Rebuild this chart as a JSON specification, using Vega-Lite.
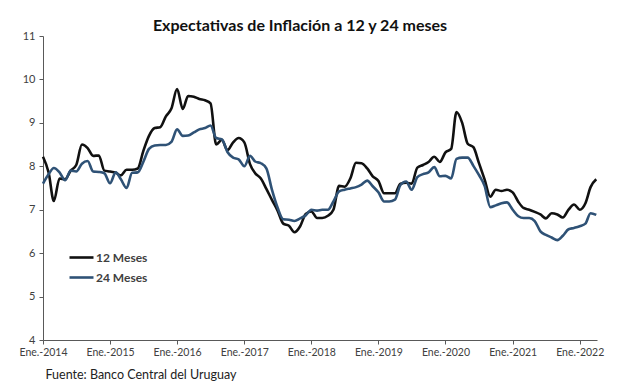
{
  "$schema": "https://vega.github.io/schema/vega-lite/v6.json",
  "autosize": {"type": "none"},
  "width": 554,
  "height": 304,
  "padding": {"left": 43, "top": 36, "right": 20, "bottom": 51},
  "background": "white",
  "title": {
    "text": "Expectativas de Inflación a 12 y 24 meses",
    "font": "Lato",
    "fontSize": 16,
    "fontWeight": "bold",
    "color": "#111111",
    "anchor": "middle",
    "dx": -20,
    "offset": -4
  },
  "data": {
    "values": [
      {"date": "2014-01-01", "m12": 8.22, "m24": 7.6},
      {"date": "2014-02-01", "m12": 7.85, "m24": 7.82},
      {"date": "2014-03-01", "m12": 7.2, "m24": 7.96},
      {"date": "2014-04-01", "m12": 7.72, "m24": 7.86},
      {"date": "2014-05-01", "m12": 7.7, "m24": 7.68},
      {"date": "2014-06-01", "m12": 7.9, "m24": 7.9},
      {"date": "2014-07-01", "m12": 8.03, "m24": 7.88},
      {"date": "2014-08-01", "m12": 8.5, "m24": 8.06},
      {"date": "2014-09-01", "m12": 8.42, "m24": 8.12},
      {"date": "2014-10-01", "m12": 8.24, "m24": 7.88},
      {"date": "2014-11-01", "m12": 8.25, "m24": 7.87},
      {"date": "2014-12-01", "m12": 7.9, "m24": 7.84},
      {"date": "2015-01-01", "m12": 7.88, "m24": 7.61},
      {"date": "2015-02-01", "m12": 7.85, "m24": 7.86},
      {"date": "2015-03-01", "m12": 7.79, "m24": 7.7},
      {"date": "2015-04-01", "m12": 7.92, "m24": 7.5},
      {"date": "2015-05-01", "m12": 7.92, "m24": 7.85},
      {"date": "2015-06-01", "m12": 7.95, "m24": 7.86},
      {"date": "2015-07-01", "m12": 8.35, "m24": 8.1},
      {"date": "2015-08-01", "m12": 8.7, "m24": 8.4},
      {"date": "2015-09-01", "m12": 8.88, "m24": 8.48},
      {"date": "2015-10-01", "m12": 8.9, "m24": 8.49},
      {"date": "2015-11-01", "m12": 9.15, "m24": 8.49},
      {"date": "2015-12-01", "m12": 9.33, "m24": 8.56},
      {"date": "2016-01-01", "m12": 9.78, "m24": 8.85},
      {"date": "2016-02-01", "m12": 9.32, "m24": 8.7},
      {"date": "2016-03-01", "m12": 9.62, "m24": 8.71},
      {"date": "2016-04-01", "m12": 9.6, "m24": 8.78},
      {"date": "2016-05-01", "m12": 9.55, "m24": 8.85},
      {"date": "2016-06-01", "m12": 9.52, "m24": 8.88},
      {"date": "2016-07-01", "m12": 9.45, "m24": 8.94},
      {"date": "2016-08-01", "m12": 8.5, "m24": 8.65},
      {"date": "2016-09-01", "m12": 8.61, "m24": 8.62},
      {"date": "2016-10-01", "m12": 8.37, "m24": 8.33},
      {"date": "2016-11-01", "m12": 8.55, "m24": 8.2},
      {"date": "2016-12-01", "m12": 8.65, "m24": 8.16},
      {"date": "2017-01-01", "m12": 8.55, "m24": 8.0},
      {"date": "2017-02-01", "m12": 8.05, "m24": 8.24},
      {"date": "2017-03-01", "m12": 7.84, "m24": 8.11},
      {"date": "2017-04-01", "m12": 7.72, "m24": 8.07},
      {"date": "2017-05-01", "m12": 7.48, "m24": 7.95},
      {"date": "2017-06-01", "m12": 7.22, "m24": 7.45},
      {"date": "2017-07-01", "m12": 6.98, "m24": 7.05},
      {"date": "2017-08-01", "m12": 6.68, "m24": 6.78},
      {"date": "2017-09-01", "m12": 6.63, "m24": 6.77},
      {"date": "2017-10-01", "m12": 6.48, "m24": 6.74},
      {"date": "2017-11-01", "m12": 6.62, "m24": 6.8},
      {"date": "2017-12-01", "m12": 6.9, "m24": 6.87},
      {"date": "2018-01-01", "m12": 6.96, "m24": 7.0},
      {"date": "2018-02-01", "m12": 6.81, "m24": 6.98},
      {"date": "2018-03-01", "m12": 6.81, "m24": 7.0},
      {"date": "2018-04-01", "m12": 6.86, "m24": 7.0},
      {"date": "2018-05-01", "m12": 7.0, "m24": 7.19},
      {"date": "2018-06-01", "m12": 7.55, "m24": 7.42},
      {"date": "2018-07-01", "m12": 7.53, "m24": 7.46},
      {"date": "2018-08-01", "m12": 7.72, "m24": 7.49},
      {"date": "2018-09-01", "m12": 8.08, "m24": 7.52},
      {"date": "2018-10-01", "m12": 8.07, "m24": 7.58},
      {"date": "2018-11-01", "m12": 7.95, "m24": 7.67},
      {"date": "2018-12-01", "m12": 7.77, "m24": 7.54},
      {"date": "2019-01-01", "m12": 7.66, "m24": 7.4},
      {"date": "2019-02-01", "m12": 7.38, "m24": 7.19},
      {"date": "2019-03-01", "m12": 7.38, "m24": 7.19},
      {"date": "2019-04-01", "m12": 7.38, "m24": 7.23},
      {"date": "2019-05-01", "m12": 7.6, "m24": 7.57},
      {"date": "2019-06-01", "m12": 7.62, "m24": 7.65},
      {"date": "2019-07-01", "m12": 7.6, "m24": 7.46},
      {"date": "2019-08-01", "m12": 7.97, "m24": 7.75},
      {"date": "2019-09-01", "m12": 8.03, "m24": 7.82},
      {"date": "2019-10-01", "m12": 8.1, "m24": 7.86},
      {"date": "2019-11-01", "m12": 8.22, "m24": 7.98},
      {"date": "2019-12-01", "m12": 8.1, "m24": 7.77},
      {"date": "2020-01-01", "m12": 8.32, "m24": 7.78},
      {"date": "2020-02-01", "m12": 8.4, "m24": 7.72},
      {"date": "2020-03-01", "m12": 9.25, "m24": 8.17},
      {"date": "2020-04-01", "m12": 9.0, "m24": 8.2},
      {"date": "2020-05-01", "m12": 8.52, "m24": 8.2},
      {"date": "2020-06-01", "m12": 8.44, "m24": 8.01},
      {"date": "2020-07-01", "m12": 8.08, "m24": 7.8},
      {"date": "2020-08-01", "m12": 7.7, "m24": 7.55},
      {"date": "2020-09-01", "m12": 7.3, "m24": 7.06},
      {"date": "2020-10-01", "m12": 7.46, "m24": 7.1},
      {"date": "2020-11-01", "m12": 7.43, "m24": 7.15},
      {"date": "2020-12-01", "m12": 7.46, "m24": 7.17},
      {"date": "2021-01-01", "m12": 7.4, "m24": 7.0},
      {"date": "2021-02-01", "m12": 7.18, "m24": 6.85},
      {"date": "2021-03-01", "m12": 7.04, "m24": 6.81},
      {"date": "2021-04-01", "m12": 7.0, "m24": 6.81},
      {"date": "2021-05-01", "m12": 6.95, "m24": 6.74},
      {"date": "2021-06-01", "m12": 6.89, "m24": 6.5},
      {"date": "2021-07-01", "m12": 6.8, "m24": 6.42},
      {"date": "2021-08-01", "m12": 6.92, "m24": 6.36},
      {"date": "2021-09-01", "m12": 6.89, "m24": 6.3},
      {"date": "2021-10-01", "m12": 6.82, "m24": 6.4},
      {"date": "2021-11-01", "m12": 7.0, "m24": 6.55},
      {"date": "2021-12-01", "m12": 7.12, "m24": 6.58},
      {"date": "2022-01-01", "m12": 7.0, "m24": 6.62},
      {"date": "2022-02-01", "m12": 7.15, "m24": 6.68},
      {"date": "2022-03-01", "m12": 7.52, "m24": 6.92},
      {"date": "2022-04-01", "m12": 7.7, "m24": 6.88}
    ]
  },
  "transform": [
    {"fold": ["m12", "m24"], "as": ["serie", "valor"]},
    {"lookup": "serie", "from": {"data": {"values": [{"serie": "m12", "nombre": "12 Meses"}, {"serie": "m24", "nombre": "24 Meses"}]}, "key": "serie", "fields": ["nombre"]}}
  ],
  "mark": {"type": "line", "strokeWidth": 2.6, "interpolate": "monotone"},
  "encoding": {
    "x": {
      "field": "date",
      "type": "temporal",
      "scale": {"type": "utc", "domain": [{"year": 2014, "month": 1, "date": 1, "utc": true}, {"year": 2022, "month": 4, "date": 5, "utc": true}]},
      "axis": {
        "values": [
          {"year": 2014, "month": 1, "date": 1, "utc": true},
          {"year": 2015, "month": 1, "date": 1, "utc": true},
          {"year": 2016, "month": 1, "date": 1, "utc": true},
          {"year": 2017, "month": 1, "date": 1, "utc": true},
          {"year": 2018, "month": 1, "date": 1, "utc": true},
          {"year": 2019, "month": 1, "date": 1, "utc": true},
          {"year": 2020, "month": 1, "date": 1, "utc": true},
          {"year": 2021, "month": 1, "date": 1, "utc": true},
          {"year": 2022, "month": 1, "date": 1, "utc": true}
        ],
        "labelExpr": "'Ene.-' + utcFormat(datum.value, '%Y')",
        "labelFont": "Lato",
        "labelFontSize": 10.5,
        "labelColor": "#404040",
        "labelPadding": 3,
        "labelFlush": false,
        "labelOverlap": false,
        "grid": false,
        "domainColor": "#595959",
        "tickColor": "#595959",
        "tickSize": 4,
        "title": "Fuente: Banco Central del Uruguay",
        "titleFont": "Lato",
        "titleFontSize": 12.5,
        "titleFontWeight": "normal",
        "titleColor": "#222222",
        "titleAnchor": "start",
        "titleAlign": "left",
        "titleX": 2,
        "titleY": 28
      }
    },
    "y": {
      "field": "valor",
      "type": "quantitative",
      "scale": {"domain": [4, 11], "nice": false, "zero": false},
      "axis": {
        "values": [4, 5, 6, 7, 8, 9, 10, 11],
        "labelFont": "Lato",
        "labelFontSize": 11,
        "labelColor": "#404040",
        "labelPadding": 4,
        "grid": false,
        "domainColor": "#595959",
        "tickColor": "#595959",
        "tickSize": 4,
        "title": null
      }
    },
    "color": {
      "field": "nombre",
      "type": "nominal",
      "scale": {"domain": ["12 Meses", "24 Meses"], "range": ["#111111", "#2f5276"]},
      "legend": {
        "title": null,
        "orient": "none",
        "legendX": 25,
        "legendY": 208,
        "symbolType": "stroke",
        "symbolStrokeWidth": 2.6,
        "symbolSize": 576,
        "labelFont": "Lato",
        "labelFontSize": 12,
        "labelFontWeight": "bold",
        "labelColor": "#404040",
        "labelOffset": 1,
        "rowPadding": 0
      }
    }
  },
  "config": {"view": {"stroke": null}}
}
